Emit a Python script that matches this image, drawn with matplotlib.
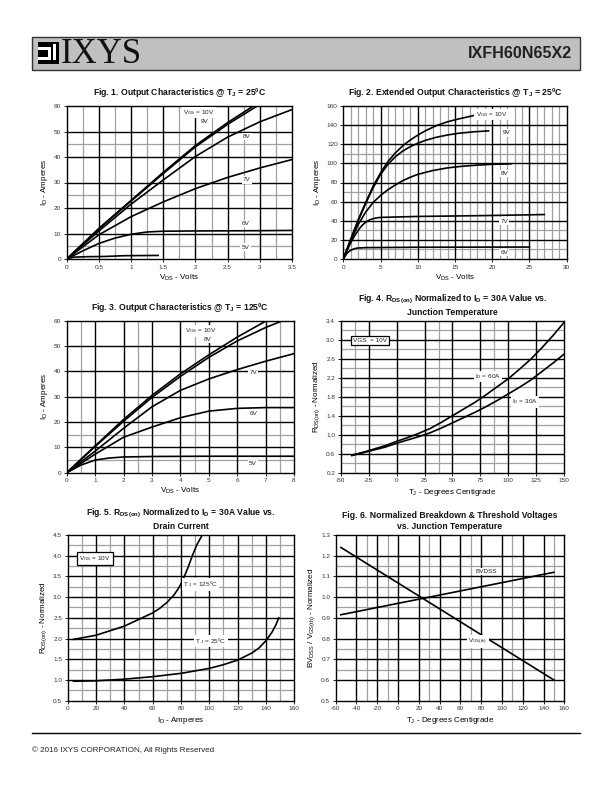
import matplotlib
matplotlib.use("Agg")
import matplotlib.pyplot as plt
from matplotlib.patches import Rectangle
from matplotlib.lines import Line2D

plt.rcParams['font.family'] = ['Liberation Sans', 'DejaVu Sans']
plt.rcParams['mathtext.fontset'] = 'custom'
plt.rcParams['mathtext.rm'] = 'Liberation Sans'
plt.rcParams['mathtext.it'] = 'Liberation Sans:italic'
plt.rcParams['mathtext.bf'] = 'Liberation Sans:bold'
plt.rcParams['mathtext.default'] = 'regular'

# ---------------- data ----------------
# Fig 1: output characteristics @ 25C
f1_10v_x = [0, 0.25, 0.5, 0.75, 1.0, 1.5, 2.0, 2.5, 2.9]
f1_10v_y = [0, 6, 12, 17.5, 23, 34, 44.5, 53.5, 60]
f1_9v_x = [0, 0.5, 1.0, 1.5, 2.0, 2.5, 2.96]
f1_9v_y = [0, 11.8, 22.7, 33.5, 44, 52.8, 60]
f1_8v_x = [0, 0.5, 1.0, 1.5, 2.0, 2.5, 3.0, 3.5]
f1_8v_y = [0, 11, 21.5, 31, 40.2, 47.8, 53.8, 58.6]
f1_7v_x = [0, 0.5, 1.0, 1.5, 2.0, 2.5, 3.0, 3.5]
f1_7v_y = [0, 9.5, 16.6, 22.4, 27.6, 32, 35.7, 39]
f1_6v_x = [0, 0.25, 0.5, 0.75, 1.0, 1.25, 1.5, 2.0, 3.0, 3.5]
f1_6v_y = [0, 3.2, 6.1, 8.2, 9.7, 10.6, 10.9, 11.0, 11.1, 11.2]
f1_5v_x = [0, 0.1, 0.3, 0.6, 0.9, 1.2, 1.42]
f1_5v_y = [0, 0.7, 0.9, 1.0, 1.3, 1.35, 1.4]

# Fig 2: extended output characteristics @ 25C
f2_10v_x = [0, 0.5, 1, 1.5, 2, 3, 4, 5, 6, 7, 8, 9, 10, 11, 12.5, 14, 15.5, 17.8]
f2_10v_y = [0, 10.5, 21, 31, 41, 59, 76, 90, 102, 111, 118.5, 124.5, 129.5, 134,
            139.5, 143.5, 146.5, 150.5]
f2_9v_x = [0, 1, 2, 3, 4, 5, 6, 7, 8, 9, 10, 11, 12.5, 14, 15.5, 17.5, 19.5]
f2_9v_y = [0, 20, 40, 58, 74.5, 88.5, 99, 107, 113, 117.5, 121, 124, 127.3,
           129.7, 131.5, 133, 134]
f2_8v_x = [0, 1, 2, 3, 4, 5, 6, 7, 8, 9, 10, 12, 14, 16, 18, 20, 22.5]
f2_8v_y = [0, 19, 36, 49, 59, 66.5, 72.5, 77.5, 82, 85.5, 88.5, 92.5, 95.3, 97,
           98.2, 99, 99.5]
f2_7v_x = [0, 0.5, 1, 1.5, 2, 2.5, 3, 3.5, 4, 4.5, 5, 7.5, 10, 15, 20, 27]
f2_7v_y = [0, 9, 17, 24, 30, 35, 38.5, 40.8, 42.2, 43, 43.5, 44, 44.5, 45, 45.5, 46.5]
f2_6v_x = [0, 0.5, 1, 1.5, 2, 3, 5, 10, 25]
f2_6v_y = [0, 6, 9.2, 10.8, 11.5, 11.9, 12, 12.3, 12.5]

# Fig 3: output characteristics @ 125C
f3_10v_x = [0, 1, 2, 3, 4, 5, 6, 7.03]
f3_10v_y = [0, 10.6, 21, 30.5, 39, 46.5, 53.5, 60]
f3_8v_x = [0, 1, 2, 3, 4, 5, 6, 7, 7.6]
f3_8v_y = [0, 10.3, 20.3, 29.7, 38, 45.5, 52, 57.3, 60]
f3_7v_x = [0, 1, 2, 3, 4, 5, 6, 7, 8]
f3_7v_y = [0, 8.5, 17.5, 26, 32.5, 37, 40.7, 44, 47]
f3_6v_x = [0, 1, 2, 3, 4, 5, 6, 7, 8]
f3_6v_y = [0, 7.3, 14, 18, 21.7, 24.3, 25.4, 25.7, 25.7]
f3_5v_x = [0, 0.5, 1, 1.5, 2, 3, 5, 8]
f3_5v_y = [0, 3, 5, 5.8, 6.2, 6.4, 6.5, 6.5]

# Fig 4: RDS(on) vs junction temperature
f4_tj = [-40, -30, -20, -10, 0, 10, 20, 30, 40, 50, 60, 70, 80, 90, 100,
         110, 120, 130, 140, 150]
f4_id60 = [0.57, 0.63, 0.70, 0.77, 0.86, 0.94, 1.03, 1.13, 1.26, 1.40, 1.54,
           1.68, 1.84, 2.01, 2.18, 2.38, 2.59, 2.83, 3.09, 3.37]
f4_id30 = [0.56, 0.62, 0.68, 0.74, 0.82, 0.89, 0.96, 1.04, 1.14, 1.25, 1.36,
           1.47, 1.59, 1.72, 1.86, 2.00, 2.15, 2.33, 2.51, 2.70]

# Fig 5: RDS(on) vs drain current
f5_125_id = [4, 20, 40, 60, 65, 70, 75, 78, 80, 82, 85, 88, 91, 95]
f5_125_r = [1.98, 2.08, 2.30, 2.62, 2.73, 2.87, 3.05, 3.2, 3.32, 3.47, 3.72,
            4.0, 4.25, 4.5]
f5_25_id = [4, 20, 40, 60, 80, 100, 110, 120, 130, 135, 140, 144, 147, 149]
f5_25_r = [0.97, 0.98, 1.02, 1.08, 1.16, 1.28, 1.37, 1.48, 1.65, 1.77, 1.95,
           2.14, 2.33, 2.5]

# Fig 6: normalized breakdown & threshold
f6_tj = [-55, 150]
f6_bvdss = [0.915, 1.12]
f6_vth = [1.24, 0.60]

# ---------------- figure ----------------
W, H = 612, 792
fig = plt.figure(figsize=(W / 100, H / 100), dpi=100)


def box(x0, y0, x1, y1):
    return [x0 / W, 1 - y1 / H, (x1 - x0) / W, (y1 - y0) / H]


TICK_FS = 4.6
LAB_FS = 5.8
TITLE_FS = 6.2


def setup(ax, xlim, ylim, xmaj, ymaj, xmin, ymin, xfmt, yfmt):
    ax.set_xlim(*xlim)
    ax.set_ylim(*ylim)
    for v in xmin:
        ax.axvline(v, color='#a0a0a0', lw=0.9, zorder=1)
    for v in ymin:
        ax.axhline(v, color='#a0a0a0', lw=0.9, zorder=1)
    for v in xmaj[1:-1]:
        ax.axvline(v, color='black', lw=1.0, zorder=1.5)
    for v in ymaj[1:-1]:
        ax.axhline(v, color='black', lw=1.0, zorder=1.5)
    ax.set_xticks(xmaj)
    ax.set_yticks(ymaj)
    ax.set_xticklabels([xfmt(v) for v in xmaj])
    ax.set_yticklabels([yfmt(v) for v in ymaj])
    ax.tick_params(labelsize=TICK_FS, length=2, width=0.6, pad=2,
                   colors='black', labelcolor='#333333')
    for s in ax.spines.values():
        s.set_linewidth(1.0)


def lab(ax, x, y, s, fs=4.6, ha='center', boxed=False):
    if boxed:
        bb = dict(boxstyle='square,pad=0.35', fc='white', ec='black', lw=0.9)
    else:
        bb = dict(boxstyle='square,pad=0.2', fc='white', ec='none')
    ax.text(x, y, s, fontsize=fs, ha=ha, va='center', bbox=bb, zorder=5,
            color='#222222')


def title(ax, s, dy=7):
    b = ax.get_position()
    fig.text(b.x0 + b.width / 2, b.y1 + dy / H, s, ha='center', va='bottom',
             fontsize=TITLE_FS, fontweight='bold', linespacing=1.25,
             color='#111111')


def fmt_g(v):
    return ('%g' % v)


def fmt_1(v):
    return '%.1f' % v


LW = 1.2

# Fig 1
ax1 = fig.add_axes(box(66.7, 106, 292, 259))
setup(ax1, (0, 3.5), (0, 60), [0, 0.5, 1, 1.5, 2, 2.5, 3, 3.5],
      [0, 10, 20, 30, 40, 50, 60], [0.25, 0.75, 1.25, 1.75, 2.25, 2.75, 3.25],
      [5, 25, 45], fmt_g, fmt_g)
for xs, ys in [(f1_10v_x, f1_10v_y), (f1_9v_x, f1_9v_y), (f1_8v_x, f1_8v_y),
               (f1_7v_x, f1_7v_y), (f1_6v_x, f1_6v_y), (f1_5v_x, f1_5v_y)]:
    ax1.plot(xs, ys, color='black', lw=LW, zorder=3)
lab(ax1, 2.05, 57.4, 'V$_{GS}$ = 10V')
lab(ax1, 2.15, 53.9, '9V')
lab(ax1, 2.8, 48, '8V')
lab(ax1, 2.8, 31, '7V')
lab(ax1, 2.78, 14, '6V')
lab(ax1, 2.78, 4.7, '5V')
ax1.set_xlabel('V$_{DS}$ - Volts', fontsize=LAB_FS, labelpad=2)
ax1.set_ylabel('I$_D$ - Amperes', fontsize=LAB_FS, labelpad=3)
title(ax1, 'Fig. 1. Output Characteristics @ T$_J$ = 25ºC')

# Fig 2
ax2 = fig.add_axes(box(343.3, 106, 566.7, 259))
setup(ax2, (0, 30), (0, 160), [0, 5, 10, 15, 20, 25, 30],
      [0, 20, 40, 60, 80, 100, 120, 140, 160],
      [v for v in range(1, 30) if v % 5],
      [10, 30, 70, 110], fmt_g, fmt_g)
for xs, ys in [(f2_10v_x, f2_10v_y), (f2_9v_x, f2_9v_y), (f2_8v_x, f2_8v_y),
               (f2_7v_x, f2_7v_y), (f2_6v_x, f2_6v_y)]:
    ax2.plot(xs, ys, color='black', lw=LW, zorder=3)
lab(ax2, 19.9, 151, 'V$_{GS}$ = 10V')
lab(ax2, 21.9, 132, '9V')
lab(ax2, 21.7, 89.6, '8V')
lab(ax2, 21.6, 39.7, '7V')
lab(ax2, 21.6, 6.6, '6V')
ax2.set_xlabel('V$_{DS}$ - Volts', fontsize=LAB_FS, labelpad=2)
ax2.set_ylabel('I$_D$ - Amperes', fontsize=LAB_FS, labelpad=3)
title(ax2, 'Fig. 2. Extended Output Characteristics @ T$_J$ = 25ºC')

# Fig 3
ax3 = fig.add_axes(box(66.7, 320.7, 294, 472.7))
setup(ax3, (0, 8), (0, 60), [0, 1, 2, 3, 4, 5, 6, 7, 8],
      [0, 10, 20, 30, 40, 50, 60], [0.5, 2.5, 4.5, 7.5], [5, 15],
      fmt_g, fmt_g)
for xs, ys in [(f3_10v_x, f3_10v_y), (f3_8v_x, f3_8v_y), (f3_7v_x, f3_7v_y),
               (f3_6v_x, f3_6v_y), (f3_5v_x, f3_5v_y)]:
    ax3.plot(xs, ys, color='black', lw=LW, zorder=3)
lab(ax3, 4.7, 56.0, 'V$_{GS}$ = 10V')
lab(ax3, 4.95, 52.6, '8V')
lab(ax3, 6.56, 39.5, '7V')
lab(ax3, 6.56, 23.2, '6V')
lab(ax3, 6.56, 3.7, '5V')
ax3.set_xlabel('V$_{DS}$ - Volts', fontsize=LAB_FS, labelpad=2)
ax3.set_ylabel('I$_D$ - Amperes', fontsize=LAB_FS, labelpad=3)
title(ax3, 'Fig. 3. Output Characteristics @ T$_J$ = 125ºC')

# Fig 4
ax4 = fig.add_axes(box(340.7, 320.7, 564.3, 472.7))
setup(ax4, (-50, 150), (0.2, 3.4), [-50, -25, 0, 25, 50, 75, 100, 125, 150],
      [0.2, 0.6, 1.0, 1.4, 1.8, 2.2, 2.6, 3.0, 3.4], [-37.5, 37.5, 87.5],
      [0.4, 0.8, 1.2, 1.6, 2.0, 2.4, 2.8, 3.2], fmt_g, fmt_1)
ax4.plot(f4_tj, f4_id60, color='black', lw=LW, zorder=3)
ax4.plot(f4_tj, f4_id30, color='black', lw=LW, zorder=3)
lab(ax4, -24, 2.98, 'VGS  = 10V', boxed=True)
lab(ax4, 82, 2.23, 'I$_D$ = 60A')
lab(ax4, 115, 1.69, 'I$_D$ = 30A')
ax4.set_xlabel('T$_J$ - Degrees Centigrade', fontsize=LAB_FS, labelpad=3)
ax4.set_ylabel('R$_{DS(on)}$ - Normalized', fontsize=LAB_FS, labelpad=3)
title(ax4, 'Fig. 4. R$_{DS(on)}$ Normalized to I$_D$ = 30A Value vs.\nJunction Temperature', dy=4)

# Fig 5
ax5 = fig.add_axes(box(67.7, 535, 294.3, 700.7))
setup(ax5, (0, 160), (0.5, 4.5), [0, 20, 40, 60, 80, 100, 120, 140, 160],
      [0.5, 1.0, 1.5, 2.0, 2.5, 3.0, 3.5, 4.0, 4.5],
      [10, 30, 50, 70, 90, 110, 130, 150],
      [0.75, 1.25, 1.75, 2.25, 2.75, 3.25, 3.75, 4.25], fmt_g, fmt_1)
ax5.plot(f5_125_id, f5_125_r, color='black', lw=LW, zorder=3)
ax5.plot(f5_25_id, f5_25_r, color='black', lw=LW, zorder=3)
lab(ax5, 19, 3.94, 'V$_{GS}$ = 10V', boxed=True)
lab(ax5, 94, 3.31, 'T $_J$ = 125ºC')
lab(ax5, 101, 1.94, 'T $_J$ = 25ºC')
ax5.set_xlabel('I$_D$ - Amperes', fontsize=LAB_FS, labelpad=3)
ax5.set_ylabel('R$_{DS(on)}$ - Normalized', fontsize=LAB_FS, labelpad=3)
title(ax5, 'Fig. 5. R$_{DS(on)}$ Normalized to I$_D$ = 30A Value vs.\nDrain Current', dy=4)

# Fig 6
ax6 = fig.add_axes(box(335.7, 535, 564.3, 700.7))
setup(ax6, (-60, 160), (0.5, 1.3), [-60, -40, -20, 0, 20, 40, 60, 80, 100, 120, 140, 160],
      [0.5, 0.6, 0.7, 0.8, 0.9, 1.0, 1.1, 1.2, 1.3],
      [-30, -10, 30, 70, 110, 150],
      [0.65, 0.75, 0.95, 1.05, 1.15], fmt_g, fmt_1)
ax6.plot(f6_tj, f6_bvdss, color='black', lw=LW, zorder=3)
ax6.plot(f6_tj, f6_vth, color='black', lw=LW, zorder=3)
lab(ax6, 85, 1.123, 'BVDSS')
lab(ax6, 77, 0.785, 'V$_{GS(th)}$')
ax6.set_xlabel('T$_J$ - Degrees Centigrade', fontsize=LAB_FS, labelpad=3)
ax6.set_ylabel('BV$_{DSS}$ / V$_{GS(th)}$ - Normalized', fontsize=LAB_FS, labelpad=3)
title(ax6, 'Fig. 6. Normalized Breakdown & Threshold Voltages\nvs. Junction Temperature', dy=4)

# ---------------- header / footer ----------------
hdr = fig.add_axes([0, 0, 1, 1], zorder=-1)
hdr.set_xlim(0, W)
hdr.set_ylim(H, 0)
hdr.axis('off')
hdr.add_patch(Rectangle((32, 37), 548, 33, fc='#c0c0c0', ec='#333333', lw=1.0))
# logo square
hdr.add_patch(Rectangle((38, 42), 21, 22, fc='black', ec='none'))
hdr.add_patch(Rectangle((38, 47), 12.5, 2.5, fc='white', ec='none'))
hdr.add_patch(Rectangle((48, 47), 2.5, 12, fc='white', ec='none'))
hdr.add_patch(Rectangle((38, 57), 12.5, 2.5, fc='white', ec='none'))
hdr.add_patch(Rectangle((52.5, 44), 3, 15.5, fc='white', ec='none'))
hdr.text(61, 54.5, 'IXYS', fontsize=25, family=['Liberation Serif', 'DejaVu Serif'],
         ha='left', va='center', color='#111111')
hdr.text(572, 54, 'IXFH60N65X2', fontsize=11.6, fontweight='bold',
         ha='right', va='center', color='#222222')
hdr.add_line(Line2D([32, 580], [733, 733], color='black', lw=1.0))
hdr.text(32, 750, '© 2016 IXYS CORPORATION, All Rights Reserved', fontsize=5.8,
         ha='left', va='center', color='#222222')

fig.savefig('out.png', dpi=100)
